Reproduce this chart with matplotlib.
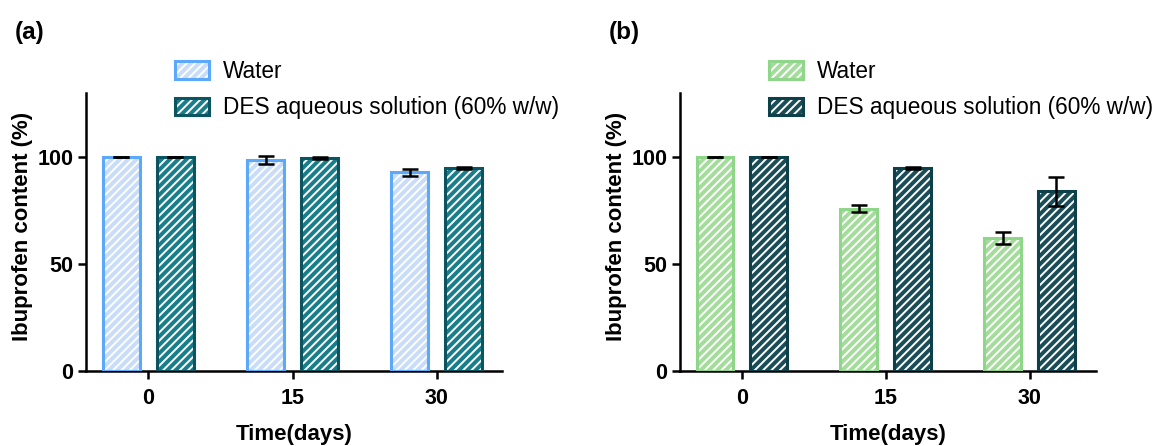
import matplotlib
matplotlib.use("Agg")
import matplotlib.pyplot as plt
import numpy as np

plt.rcParams['font.family'] = ['Liberation Sans', 'DejaVu Sans']
plt.rcParams['hatch.linewidth'] = 1.4

days = ["0", "15", "30"]
water_a = [100.0, 98.7, 93.0]
water_a_err = [0.0, 1.7, 1.7]
des_a = [99.9, 99.5, 94.8]
des_a_err = [0.0, 0.5, 0.5]

water_b = [100.0, 76.0, 62.0]
water_b_err = [0.0, 1.6, 2.8]
des_b = [99.9, 95.0, 84.0]
des_b_err = [0.0, 0.5, 6.6]

panels = [
    dict(label="(a)", water=water_a, werr=water_a_err, des=des_a, derr=des_a_err,
         wface="#c9ddf8", wedge="#5ca8fa", dface="#1a7e8a", dedge="#0b5563",
         rect=[0.0745, 0.168, 0.360, 0.6235], xlim=(-0.43, 2.45)),
    dict(label="(b)", water=water_b, werr=water_b_err, des=des_b, derr=des_b_err,
         wface="#a4dc9c", wedge="#8fd68a", dface="#1b4d58", dedge="#0d4049",
         rect=[0.5887, 0.168, 0.360, 0.6235], xlim=(-0.43, 2.46)),
]

fig = plt.figure(figsize=(11.55, 4.46), dpi=100)
x = np.arange(len(days))
off = 0.187
w = 0.255
for p in panels:
    ax = fig.add_axes(p["rect"])
    handles = []
    for vals, errs, face, edge, sgn in [(p["water"], p["werr"], p["wface"], p["wedge"], -1),
                                        (p["des"], p["derr"], p["dface"], p["dedge"], 1)]:
        h1 = ax.bar(x + sgn * off, vals, w, color=face, edgecolor="white", hatch="////",
                    linewidth=0, zorder=2)
        h2 = ax.bar(x + sgn * off, vals, w, facecolor="none", edgecolor=edge,
                    linewidth=2.2, zorder=3)
        ax.errorbar(x + sgn * off, vals, yerr=errs, fmt="none", ecolor="black",
                    elinewidth=1.8, capsize=6, capthick=1.8, zorder=4)
        handles.append((h1.patches[0], h2.patches[0]))
    ax.set_xlim(*p["xlim"])
    ax.set_ylim(0, 130)
    ax.set_xticks(x)
    ax.set_xticklabels(days)
    ax.set_yticks([0, 50, 100])
    for s in ["top", "right"]:
        ax.spines[s].set_visible(False)
    for s in ["left", "bottom"]:
        ax.spines[s].set_linewidth(1.8)
    ax.tick_params(axis="both", width=1.8, length=6, labelsize=15.5, pad=3)
    for t in ax.get_xticklabels() + ax.get_yticklabels():
        t.set_fontweight("bold")
    ax.tick_params(axis="x", pad=6)
    ax.set_xlabel("Time(days)", fontsize=16, fontweight="bold", labelpad=11)
    ax.set_ylabel("Ibuprofen content (%)", fontsize=16, fontweight="bold", labelpad=3)
    ax.yaxis.set_label_coords(-0.128, 0.52)
    leg = ax.legend(handles, ["Water", "DES aqueous solution (60% w/w)"],
                    loc="lower left", bbox_to_anchor=(0.214, 0.905), frameon=False,
                    fontsize=16.3, handlelength=1.5, handleheight=0.8,
                    handletextpad=0.62, labelspacing=0.6, borderaxespad=0,
                    borderpad=0)
    fig.text(p["rect"][0] - 0.062, 0.928, p["label"], fontsize=17.5, fontweight="bold",
             ha="left", va="center")

fig.savefig("out.png", dpi=100)
